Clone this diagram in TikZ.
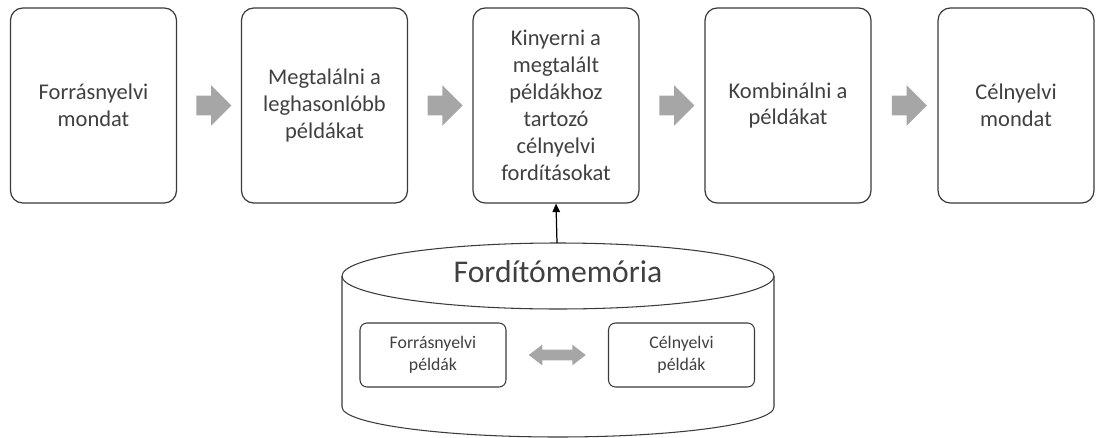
\documentclass[tikz,border=0pt]{standalone}
\usepackage{fontspec}
\setmainfont{Carlito}
\usepackage{xcolor}
\usepackage{tikz}
\usetikzlibrary{calc,arrows.meta,shapes.arrows}
\definecolor{ink}{HTML}{404040}
\definecolor{edge}{HTML}{3A3A3A}
\definecolor{flow}{HTML}{A6A6A6}
\tikzset{
  stage/.style={draw=edge, line width=0.7pt, rounded corners=7pt,
    minimum width=3.32cm, minimum height=3.9cm, align=center,
    text=ink, font=\fontsize{12.8}{15.3}\selectfont, inner sep=2pt},
  sample/.style={draw=edge, line width=0.6pt, rounded corners=4pt,
    minimum width=2.92cm, minimum height=1.28cm, align=center,
    text=ink, font=\fontsize{10.1}{12.4}\selectfont, inner sep=2pt},
  flowarrow/.style={single arrow, fill=flow, draw=none, inner sep=0.19cm,
    single arrow head extend=0.21cm, single arrow head indent=0pt,
    minimum height=0.7cm},
  swaparrow/.style={double arrow, fill=flow, draw=none, inner sep=0.1cm,
    double arrow head extend=0.1cm, double arrow tip angle=75,
    minimum height=1.14cm},
  cyl/.style={draw=edge, line width=0.6pt},
  feed/.style={draw=black, line width=0.7pt, -{Triangle[length=0.17cm,width=0.15cm]}}
}
\begin{document}
\begin{tikzpicture}
  \useasboundingbox (0,0) rectangle (21.92,8.74);

  % pipeline
  \node[stage] (src)  at (1.87,6.63)  {Forrásnyelvi\\mondat};
  \node[stage] (find) at (6.49,6.63)  {Megtalálni a\\leghasonlóbb\\példákat};
  \node[stage] (get)  at (11.12,6.63) {Kinyerni a\\megtalált\\példákhoz\\tartozó\\célnyelvi\\fordításokat};
  \node[stage] (comb) at (15.76,6.63) {Kombinálni a\\példákat};
  \node[stage, minimum width=3.12cm] (tgt) at (20.32,6.63) {Célnyelvi\\mondat};

  \node[flowarrow] (a1) at ($(src.east)!0.5!(find.west)$) {};
  \node[flowarrow] (a2) at ($(find.east)!0.5!(get.west)$) {};
  \node[flowarrow] (a3) at ($(get.east)!0.5!(comb.west)$) {};
  \node[flowarrow] (a4) at ($(comb.east)!0.5!(tgt.west)$) {};

  % memory cylinder
  \draw[cyl] (6.84,3.22) -- (6.84,0.6)
    arc[start angle=180, end angle=360, x radius=4.32, y radius=0.6] -- (15.48,3.22);
  \draw[cyl] (11.16,3.22) ellipse[x radius=4.32, y radius=0.66];
  \node[text=ink, font=\fontsize{18}{21}\selectfont] (mem) at (11.16,3.3) {Fordítómemória};
  \coordinate (memtop) at (11.14,3.88);

  \node[sample] (srcex) at (8.66,1.64)  {Forrásnyelvi\\példák};
  \node[sample] (tgtex) at (13.63,1.64) {Célnyelvi\\példák};
  \node[swaparrow] (swap) at ($(srcex.east)!0.5!(tgtex.west)$) {};

  \draw[feed] (memtop) -- (get.south);
\end{tikzpicture}
\end{document}
